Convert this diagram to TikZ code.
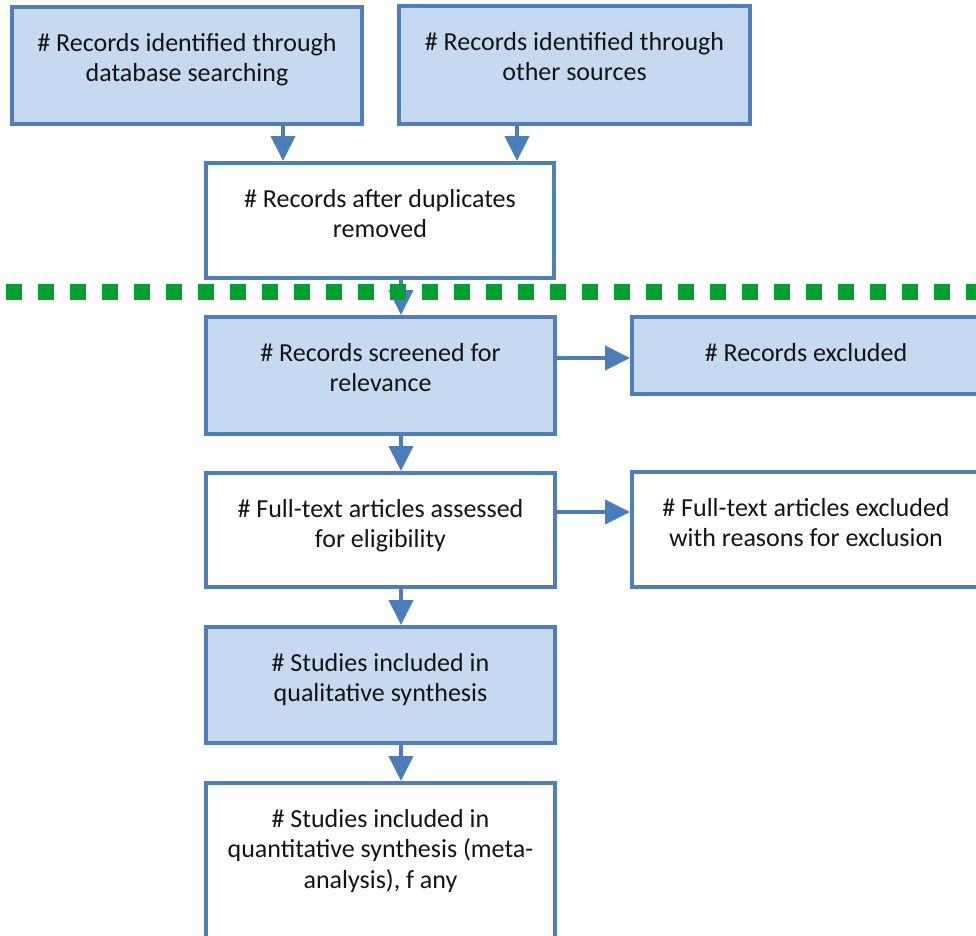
\documentclass[tikz,border=0pt]{standalone}
\usepackage{fontspec}
\setmainfont{Carlito}
\usetikzlibrary{arrows.meta}
\definecolor{edgeblue}{HTML}{4F7FBA}
\definecolor{fillblue}{HTML}{C6D9F0}
\definecolor{arrowblue}{HTML}{4A7DBA}
\definecolor{sepgreen}{HTML}{00A033}
\begin{document}
\begin{tikzpicture}[x=1pt,y=-1pt,
  stage/.style={draw=edgeblue, line width=4pt, inner sep=0pt},
  shaded/.style={stage, fill=fillblue},
  plain/.style={stage, fill=white},
  caption/.style={anchor=north, align=center, inner sep=0pt,
    font=\fontsize{26}{30.5}\selectfont, text=black!92},
  flow/.style={draw=arrowblue, line width=4pt,
    -{Triangle[width=24pt,length=25pt]}}]
\useasboundingbox (0,0) rectangle (976,935);

% boxes
\node[shaded, minimum width=350pt, minimum height=117pt] (a) at (187,65.5) {};
\node[shaded, minimum width=351pt, minimum height=118pt] (b) at (574.5,65) {};
\node[plain,  minimum width=348pt, minimum height=115pt] (c) at (380,220.5) {};
\node[shaded, minimum width=349pt, minimum height=117pt] (d) at (380.5,375.5) {};
\node[shaded, minimum width=348pt, minimum height=77pt]  (e) at (806,355.5) {};
\node[plain,  minimum width=349pt, minimum height=114pt] (f) at (380.5,530) {};
\node[plain,  minimum width=348pt, minimum height=115pt] (g) at (806,529.5) {};
\node[shaded, minimum width=349pt, minimum height=116pt] (h) at (380.5,685) {};
\node[plain,  minimum width=349pt, minimum height=194pt] (i) at (380.5,880) {};

% texts
\node[caption] (ta) at ([yshift=-28pt]a.north) {\# Records identified through\\database searching};
\node[caption] (tb) at ([yshift=-28pt]b.north) {\# Records identified through\\other sources};
\node[caption] (tc) at ([yshift=-28pt]c.north) {\# Records after duplicates\\removed};
\node[caption] (td) at ([yshift=-28pt]d.north) {\# Records screened for\\relevance};
\node[caption] (te) at ([yshift=-28pt]e.north) {\# Records excluded};
\node[caption] (tf) at ([yshift=-28pt]f.north) {\# Full-text articles assessed\\for eligibility};
\node[caption] (tg) at ([yshift=-28pt]g.north) {\# Full-text articles excluded\\with reasons for exclusion};
\node[caption] (th) at ([yshift=-28pt]h.north) {\# Studies included in\\qualitative synthesis};
\node[caption] (ti) at ([yshift=-28pt]i.north) {\# Studies included in\\quantitative synthesis (meta-\\analysis), f any};

% connector columns and rows
\coordinate (xa) at (283,0);
\coordinate (xb) at (517,0);
\coordinate (xm) at (401,0);
\coordinate (yd) at (0,358);
\coordinate (yf) at (0,512);

\draw[flow] (a.south -| xa) -- (c.north -| xa);
\draw[flow] (b.south -| xb) -- (c.north -| xb);
\draw[flow] (c.south -| xm) -- (d.north -| xm);
\draw[flow] (d.south -| xm) -- (f.north -| xm);
\draw[flow] (f.south -| xm) -- (h.north -| xm);
\draw[flow] (h.south -| xm) -- (i.north -| xm);
\draw[flow] (d.east |- yd) -- (e.west |- yd);
\draw[flow] (f.east |- yf) -- (g.west |- yf);

% separator between identification and screening
\coordinate (sepl) at (6,292);
\coordinate (sepr) at (990,292);
\draw[sepgreen, line width=16pt, dash pattern=on 16pt off 16pt] (sepl) -- (sepr);
\end{tikzpicture}
\end{document}
